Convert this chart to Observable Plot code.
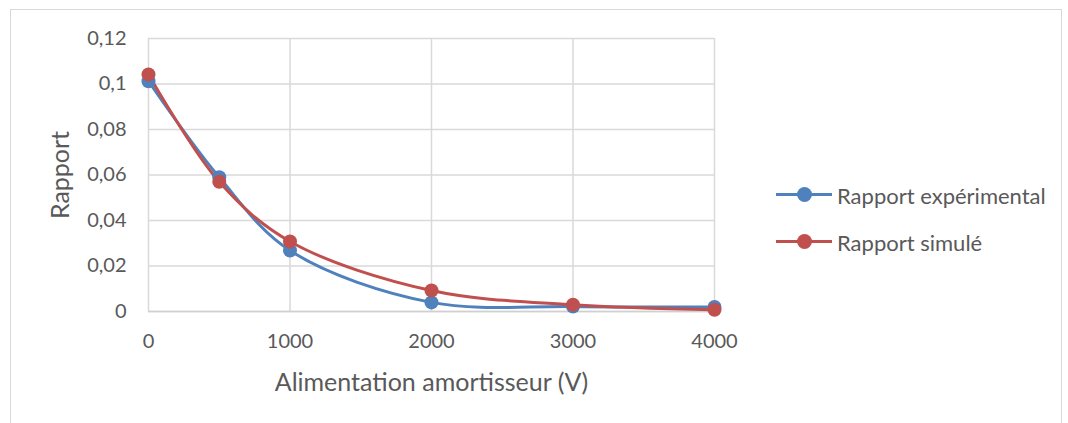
<!DOCTYPE html>
<html><head><meta charset="utf-8">
<script src="https://cdn.jsdelivr.net/npm/d3@7"></script>
<script src="https://cdn.jsdelivr.net/npm/@observablehq/plot@0.6"></script>
<style>
body{margin:0;background:#fff;font-family:Lato,"Open Sans",sans-serif;}
#wrap{position:relative;width:1068px;height:423px;overflow:hidden;}
#border{position:absolute;left:10px;top:9px;width:1052px;height:430px;border:1px solid #d9d9d9;box-sizing:border-box;}
#legend{position:absolute;left:776px;top:180px;font-size:22px;color:#595959;}
.item{display:flex;align-items:center;height:30px;margin-bottom:17px;}
.sw{position:relative;width:56px;height:30px;margin-right:5px;}
.sw .ln{position:absolute;left:0;right:0;top:13px;height:3px;}
.sw .dt{position:absolute;left:21px;top:7px;width:15px;height:15px;border-radius:50%;}
</style></head>
<body>
<div id="wrap"><div id="border"></div><div id="chart"></div><div id="legend"></div></div>
<script>
const xValues = [0, 500, 1000, 2000, 3000, 4000];
const experimental = [0.1012, 0.0590, 0.0268, 0.0040, 0.0022, 0.0020];
const simule = [0.1042, 0.0570, 0.0308, 0.0092, 0.0030, 0.0008];
const seriesNames = ["Rapport expérimental", "Rapport simulé"];
const seriesColors = ["#4f81bd", "#c0504d"];
const xTicks = [0, 1000, 2000, 3000, 4000];
const yTicks = [0, 0.02, 0.04, 0.06, 0.08, 0.1, 0.12];

const data = [];
[experimental, simule].forEach((arr, si) => arr.forEach((v, i) => data.push({x: xValues[i], y: v, s: seriesNames[si]})));

const fmt = d => String(+d.toFixed(2)).replace(".", ",");
const plot = Plot.plot({
  width: 1068, height: 423,
  marginLeft: 148, marginRight: 354, marginTop: 38, marginBottom: 112,
  style: {fontFamily: "Lato, 'Open Sans', sans-serif", fontSize: "20px", color: "#595959", background: "transparent"},
  x: {domain: [0, 4000]},
  y: {domain: [0, 0.12]},
  color: {domain: seriesNames, range: seriesColors},
  marks: [
    Plot.gridX(xTicks, {stroke: "#d9d9d9", strokeOpacity: 1, strokeWidth: 1.5}),
    Plot.gridY(yTicks, {stroke: "#d9d9d9", strokeOpacity: 1, strokeWidth: 1.5}),
    Plot.ruleY([0], {stroke: "#d0d0d0", strokeWidth: 1.5}),
    Plot.axisX(xTicks, {tickSize: 0, tickPadding: 22, tickFormat: d => String(d), fontSize: 20, label: "Alimentation amortisseur (V)", labelAnchor: "center", labelOffset: 79, labelArrow: "none"}),
    Plot.axisY(yTicks, {tickSize: 0, tickPadding: 22, tickFormat: fmt, fontSize: 20, label: "Rapport", labelAnchor: "center", labelOffset: 97, labelArrow: "none"}),
    Plot.line(data, {x: "x", y: "y", z: "s", stroke: "s", strokeWidth: 3, curve: "catmull-rom"}),
    Plot.dot(data, {x: "x", y: "y", fill: "s", r: 7})
  ]
});
plot.querySelectorAll("g[aria-label='x-axis label'] text, g[aria-label='y-axis label'] text").forEach(t => t.setAttribute("font-size", "25"));
document.getElementById("chart").appendChild(plot);

const lg = document.getElementById("legend");
seriesNames.forEach((n, i) => {
  const it = document.createElement("div"); it.className = "item";
  it.innerHTML = `<div class="sw"><div class="ln" style="background:${seriesColors[i]}"></div><div class="dt" style="background:${seriesColors[i]}"></div></div><span>${n}</span>`;
  lg.appendChild(it);
});
</script>
</body></html>
